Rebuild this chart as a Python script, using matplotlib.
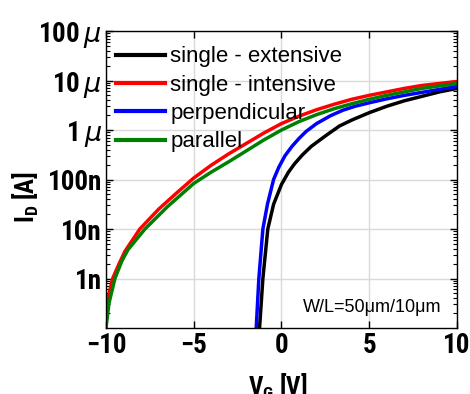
import numpy as np
import matplotlib
matplotlib.use("Agg")
import matplotlib.pyplot as plt
from matplotlib import font_manager as fm
from matplotlib.ticker import FixedLocator, LogLocator, NullFormatter

# ---- data (V_G in volts, log10 of I_D in amps) ----
vg_ext = [-1.25, -1.06, -0.78, -0.45, 0.0, 0.4, 0.75, 1.2, 1.7, 2.5, 3.3, 4, 5, 6, 7, 8, 9, 10]
log_ext = [-10, -9.0, -8.0, -7.5, -7.1, -6.85, -6.68, -6.5, -6.33, -6.12, -5.92, -5.8, -5.65, -5.52, -5.41, -5.32, -5.23, -5.16]

vg_int = [-10, -9.87, -9.62, -9.25, -8.92, -8.07, -7, -6, -5, -4, -3, -2, -1, 0, 1, 2, 3, 4, 5, 6, 7, 8, 9, 10]
log_int = [-9.7, -9.37, -9.0, -8.7, -8.45, -8.0, -7.6, -7.28, -6.97, -6.71, -6.48, -6.27, -6.06, -5.87, -5.72, -5.59, -5.48, -5.38, -5.3, -5.23, -5.16, -5.1, -5.06, -5.02]

vg_perp = [-1.44, -1.29, -1.06, -0.8, -0.45, -0.15, 0.2, 0.6, 1.0, 1.4, 2.0, 2.8, 3.5, 4.2, 5, 6, 7, 8, 9, 10]
log_perp = [-10, -9.0, -8.0, -7.5, -7.0, -6.75, -6.52, -6.33, -6.17, -6.03, -5.87, -5.71, -5.6, -5.52, -5.45, -5.37, -5.3, -5.24, -5.18, -5.12]

vg_par = [-10, -9.83, -9.49, -9.1, -8.75, -7.78, -6.5, -5, -4, -3, -2, -1, 0, 1, 2, 3, 4, 5, 6, 7, 8, 9, 10]
log_par = [-10, -9.5, -9.0, -8.65, -8.42, -8.0, -7.55, -7.08, -6.85, -6.64, -6.42, -6.2, -6.0, -5.83, -5.69, -5.57, -5.47, -5.38, -5.3, -5.23, -5.16, -5.11, -5.06]

labels = ["single - extensive", "single - intensive", "perpendicular", "parallel"]
colors = ["black", "red", "blue", "green"]

yticks = [1e-9, 1e-8, 1e-7, 1e-6, 1e-5, 1e-4]
yticklabels = ["1n", "10n", "100n", "1$\\,\\mu$", "10$\\,\\mu$", "100$\\,\\mu$"]
xticks = [-10, -5, 0, 5, 10]
xticklabels = ["−10", "−5", "0", "5", "10"]


def pick_narrow_bold():
    prefs = ["Liberation Sans Narrow", "DejaVu Sans Condensed", "Arial Narrow",
             "Roboto Condensed", "Open Sans Condensed", "Noto Sans Condensed"]
    bold = [f for f in fm.fontManager.ttflist
            if (f.weight in ("bold", 700, "700") or (isinstance(f.weight, int) and f.weight >= 700))
            and f.style == "normal"]
    for p in prefs:
        for f in bold:
            if f.name == p:
                return fm.FontProperties(fname=f.fname)
    for f in bold:
        if ("Narrow" in f.name or "Condensed" in f.name or "condensed" in str(f.stretch)):
            return fm.FontProperties(fname=f.fname)
    return None


narrow = pick_narrow_bold()


def tick_fp(size):
    if narrow is not None:
        fp = narrow.copy()
        fp.set_size(size)
        return fp
    return fm.FontProperties(family="Liberation Sans", weight="bold", size=size * 0.8)


fig = plt.figure(figsize=(4.70, 3.94), dpi=100)
ax = fig.add_axes([0.2255, 0.1675, 0.7468, 0.7538])

series = [(vg_ext, log_ext), (vg_int, log_int), (vg_perp, log_perp), (vg_par, log_par)]
for (v, lg), c, lab in zip(series, colors, labels):
    ax.plot(v, 10.0 ** np.array(lg), color=c, lw=2.5, label=lab)

ax.set_yscale("log")
ax.set_xlim(-10, 10)
ax.set_ylim(1e-10, 1e-4)

ax.yaxis.set_major_locator(FixedLocator(yticks))
ax.set_yticklabels(yticklabels)
ax.yaxis.set_minor_locator(LogLocator(base=10, subs=np.arange(2, 10), numticks=20))
ax.yaxis.set_minor_formatter(NullFormatter())
ax.set_xticks(xticks)
ax.set_xticklabels(xticklabels)

ax.grid(True, which="major", color="#d9d9d9", lw=1.0)
ax.set_axisbelow(True)

ax.tick_params(axis="both", which="both", direction="in", top=True, right=True)
ax.tick_params(axis="both", which="major", length=5, width=1, pad=3)
ax.tick_params(axis="y", which="minor", length=3, width=0.8)

for lbl in ax.get_xticklabels() + ax.get_yticklabels():
    lbl.set_fontproperties(tick_fp(19.5))

for sp in ax.spines.values():
    sp.set_linewidth(1.0)

ax.set_ylabel("I$_\\mathregular{D}$ [A]", fontproperties=tick_fp(18))
ax.yaxis.set_label_coords(-0.185, 0.44)
ax.set_xlabel("V$_\\mathregular{G}$ [V]", fontproperties=tick_fp(18))
ax.xaxis.set_label_coords(0.491, -0.148)

leg = ax.legend(loc="upper left", frameon=False, prop={"family": "Liberation Sans", "size": 16},
                handlelength=2.2, handletextpad=0.25, labelspacing=0.33,
                borderaxespad=0.0, borderpad=0.0, bbox_to_anchor=(0.028, 0.948))
for h in leg.legend_handles:
    h.set_linewidth(3)

ax.text(0.955, 0.07, "W/L=50μm/10μm", transform=ax.transAxes, ha="right", va="center",
        family="Liberation Sans", fontsize=13)

fig.savefig("out.png", dpi=100)
